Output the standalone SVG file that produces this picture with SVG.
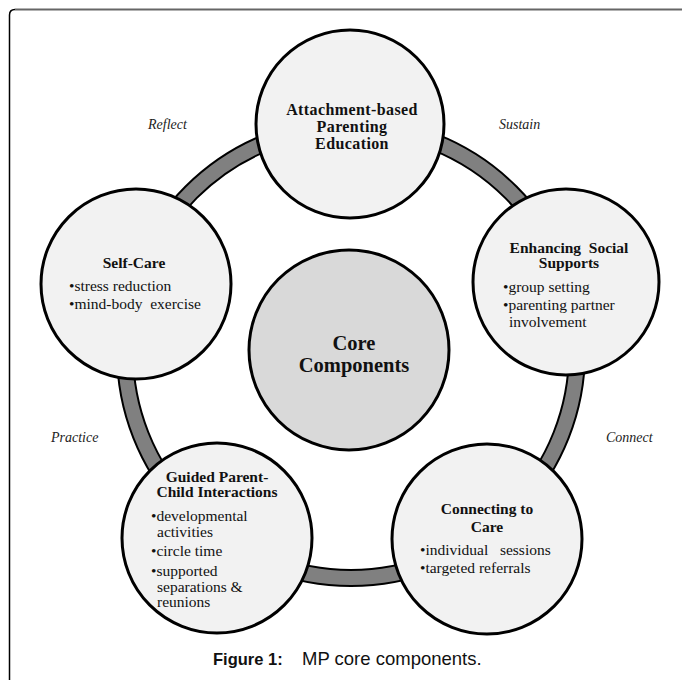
<svg xmlns="http://www.w3.org/2000/svg" width="683" height="680" viewBox="0 0 683 680">
<style>
.node{fill:#f2f2f2;stroke:#000;stroke-width:3}
.core{fill:#d9d9d9;stroke:#000;stroke-width:3}
.h{font-family:"Liberation Serif","Times New Roman",serif;font-weight:bold;font-size:15.5px;text-anchor:middle;fill:#111}
.b{font-family:"Liberation Serif","Times New Roman",serif;font-size:15.5px;fill:#111;white-space:pre}
.lab{font-family:"Liberation Serif","Times New Roman",serif;font-style:italic;font-size:14px;fill:#222}
.cap{font-family:"Liberation Sans",Arial,sans-serif;font-size:18.5px;fill:#111}
</style>
<rect width="683" height="680" fill="#fff"/>
<path d="M9.5 680 V15 Q9.5 9.5 15 9.5" fill="none" stroke="#000" stroke-width="1.5"/>
<path d="M15 9.5 H682" fill="none" stroke="#666" stroke-width="2"/>
<g id="connectors">
<circle cx="351" cy="352" r="226" fill="none" stroke="#000" stroke-width="18"/>
<circle cx="351" cy="352" r="226" fill="none" stroke="#808080" stroke-width="14"/>
</g>
<g id="labels">
<text class="lab" x="148" y="129">Reflect</text>
<text class="lab" x="499" y="129">Sustain</text>
<text class="lab" x="51" y="442">Practice</text>
<text class="lab" x="606" y="442">Connect</text>
</g>
<g id="core">
<circle class="core" cx="349" cy="350" r="100"/>
<text class="h" x="354" y="350" style="font-size:20.5px">Core</text>
<text class="h" x="354" y="372" style="font-size:20.5px">Components</text>
</g>
<g id="attachment">
<circle class="node" cx="350" cy="124" r="94"/>
<text class="h" x="352" y="115" style="font-size:16px;letter-spacing:0.4px">Attachment-based</text>
<text class="h" x="352" y="132" style="font-size:16px;letter-spacing:0.4px">Parenting</text>
<text class="h" x="352" y="149" style="font-size:16px;letter-spacing:0.4px">Education</text>
</g>
<g id="social">
<circle class="node" cx="566" cy="282" r="93"/>
<text class="h" x="569" y="253" style="white-space:pre">Enhancing  Social</text>
<text class="h" x="569" y="268">Supports</text>
<text class="b" x="503" y="292">•group setting</text>
<text class="b" x="503" y="310">•parenting partner</text>
<text class="b" x="509" y="327">involvement</text>
</g>
<g id="care">
<circle class="node" cx="487" cy="539" r="95"/>
<text class="h" x="487" y="514">Connecting to</text>
<text class="h" x="487" y="532">Care</text>
<text class="b" x="420" y="555">•individual   sessions</text>
<text class="b" x="420" y="573">•targeted referrals</text>
</g>
<g id="guided">
<circle class="node" cx="217" cy="538" r="95"/>
<text class="h" x="217" y="482">Guided Parent-</text>
<text class="h" x="217" y="497">Child Interactions</text>
<text class="b" x="151" y="521">•developmental</text>
<text class="b" x="157" y="537">activities</text>
<text class="b" x="151" y="556">•circle time</text>
<text class="b" x="151" y="576">•supported</text>
<text class="b" x="157" y="592">separations &amp;</text>
<text class="b" x="157" y="607">reunions</text>
</g>
<g id="selfcare">
<circle class="node" cx="136" cy="284" r="95"/>
<text class="h" x="134" y="268">Self-Care</text>
<text class="b" x="69" y="291">•stress reduction</text>
<text class="b" x="69" y="309">•mind-body  exercise</text>
</g>
<g id="caption">
<text class="cap" x="213" y="665" style="font-weight:bold;font-size:16.5px">Figure 1:</text>
<text class="cap" x="302" y="665">MP core components.</text>
</g>
</svg>
